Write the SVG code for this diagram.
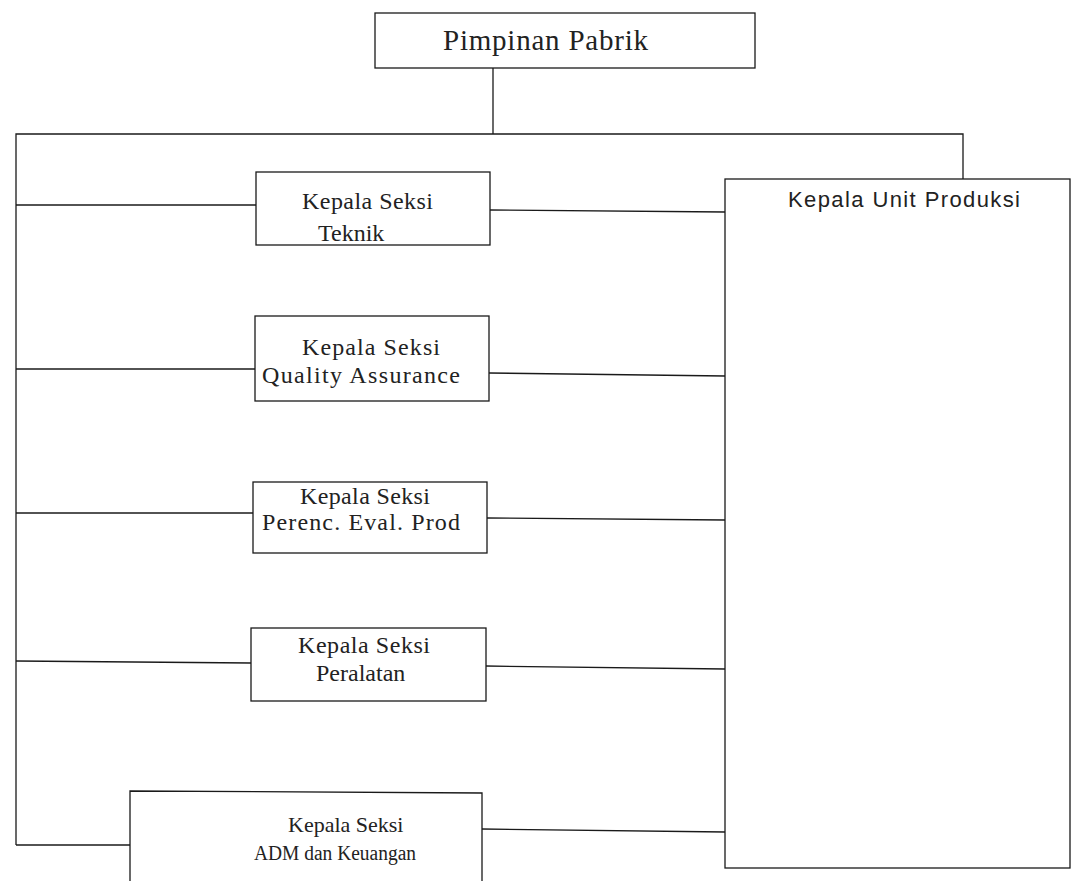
<svg xmlns="http://www.w3.org/2000/svg" width="1072" height="881" viewBox="0 0 1072 881">
<style>
.box{fill:none;stroke:#1a1a1a;stroke-width:1.3}
.ln{fill:none;stroke:#1a1a1a;stroke-width:1.3}
.t{font-family:"Liberation Serif","Times New Roman",serif;font-size:24px;fill:#222222}
.s{font-family:"Liberation Sans",Arial,sans-serif;font-size:22px;fill:#222222}
</style>
<rect width="1072" height="881" fill="#ffffff"/>
<g id="connectors">
<polyline class="ln" points="493,68 493,134"/>
<polyline class="ln" points="16,845 16,134 963,134 963,179"/>
<polyline class="ln" points="16,845 130,845"/>
<line class="ln" x1="16" y1="205" x2="256" y2="205"/>
<line class="ln" x1="490" y1="210" x2="725" y2="212"/>
<line class="ln" x1="16" y1="369" x2="255" y2="369"/>
<line class="ln" x1="489" y1="373" x2="725" y2="376"/>
<line class="ln" x1="16" y1="513" x2="253" y2="513"/>
<line class="ln" x1="487" y1="518" x2="725" y2="520"/>
<line class="ln" x1="16" y1="661" x2="251" y2="663"/>
<line class="ln" x1="486" y1="666" x2="725" y2="669"/>
<line class="ln" x1="482" y1="829" x2="725" y2="832"/>
</g>
<g id="pimpinan">
<rect class="box" x="375" y="13" width="380" height="55"/>
<text class="t" x="443" y="50" style="font-size:29px" textLength="205" lengthAdjust="spacing">Pimpinan Pabrik</text>
</g>
<g id="unit-produksi">
<rect class="box" x="725" y="179" width="345" height="689"/>
<text class="s" x="788" y="207" textLength="232" lengthAdjust="spacing">Kepala Unit Produksi</text>
</g>
<g id="teknik">
<rect class="box" x="256" y="172" width="234" height="73"/>
<text class="t" x="302" y="209" textLength="131" lengthAdjust="spacing">Kepala Seksi</text>
<text class="t" x="318" y="241">Teknik</text>
</g>
<g id="quality-assurance">
<rect class="box" x="255" y="316" width="234" height="85"/>
<text class="t" x="302" y="355" textLength="138" lengthAdjust="spacing">Kepala Seksi</text>
<text class="t" x="262" y="383" textLength="198" lengthAdjust="spacing">Quality Assurance</text>
</g>
<g id="perenc">
<rect class="box" x="253" y="482" width="234" height="71"/>
<text class="t" x="300" y="504" textLength="130" lengthAdjust="spacing">Kepala Seksi</text>
<text class="t" x="262" y="530" textLength="198" lengthAdjust="spacing">Perenc. Eval. Prod</text>
</g>
<g id="peralatan">
<rect class="box" x="251" y="628" width="235" height="73"/>
<text class="t" x="298" y="653" textLength="132" lengthAdjust="spacing">Kepala Seksi</text>
<text class="t" x="316" y="681">Peralatan</text>
</g>
<g id="adm">
<polyline class="box" points="130,881 130,791 482,793 482,881"/>
<text class="t" x="288" y="832" style="font-size:22px">Kepala Seksi</text>
<text class="t" x="254" y="860" style="font-size:20px" textLength="162" lengthAdjust="spacingAndGlyphs">ADM dan Keuangan</text>
</g>
</svg>
